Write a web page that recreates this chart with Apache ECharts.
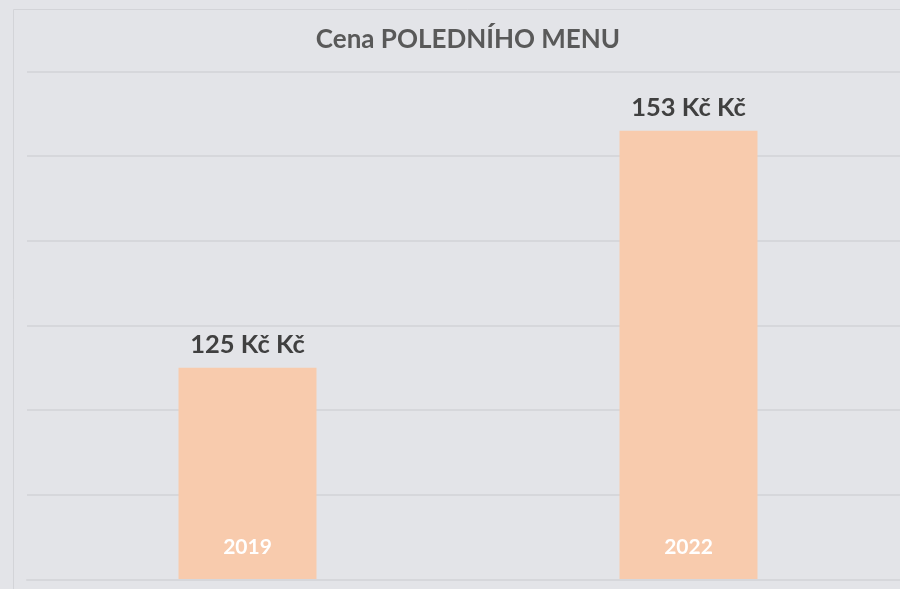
<!DOCTYPE html>
<html>
<head>
<meta charset="utf-8">
<script src="https://cdn.jsdelivr.net/npm/echarts@6/dist/echarts.min.js"></script>
<style>html,body{margin:0;padding:0;background:#e3e4e8;overflow:hidden;}#c{width:920px;height:589px;}</style>
</head>
<body>
<div id="c"></div>
<script>
var categories = ['2019', '2022'];
var prices = [125, 153];
var unitSuffix = ' Kč Kč';
var titleText = 'Cena POLEDNÍHO MENU';

var chart = echarts.init(document.getElementById('c'), null, {renderer: 'canvas'});
chart.setOption({
  backgroundColor: '#e3e4e8',
  animation: false,
  title: {
    text: titleText,
    left: 463, top: 22, textAlign: 'center',
    textStyle: {fontFamily: 'Lato', fontWeight: 'bold', fontSize: 26, color: '#595959'}
  },
  graphic: [{
    type: 'rect', silent: true,
    shape: {x: 13.5, y: 9.5, width: 920, height: 600},
    style: {fill: 'none', stroke: '#d3d4d8', lineWidth: 1}
  }],
  grid: {left: 27, top: 71.5, width: 882, height: 508, containLabel: false},
  xAxis: {
    type: 'category', data: categories, z: 10,
    axisLine: {show: true, lineStyle: {color: '#d6d7db', width: 2}},
    axisTick: {show: false},
    axisLabel: {inside: true, margin: 22, color: '#ffffff', fontFamily: 'Lato', fontWeight: 'bold', fontSize: 21}
  },
  yAxis: {
    type: 'value', min: 100, max: 160, interval: 10,
    axisLabel: {show: false}, axisLine: {show: false}, axisTick: {show: false},
    splitLine: {lineStyle: {color: '#d6d7db', width: 2}}
  },
  series: [{
    type: 'bar', data: prices, barWidth: 138,
    itemStyle: {color: '#f8cbad'},
    label: {
      show: true, position: 'top', distance: 10,
      formatter: function (p) { return p.value + unitSuffix; },
      fontFamily: 'Lato', fontWeight: 'bold', fontSize: 25.5, color: '#404040'
    }
  }]
});
</script>
</body>
</html>
